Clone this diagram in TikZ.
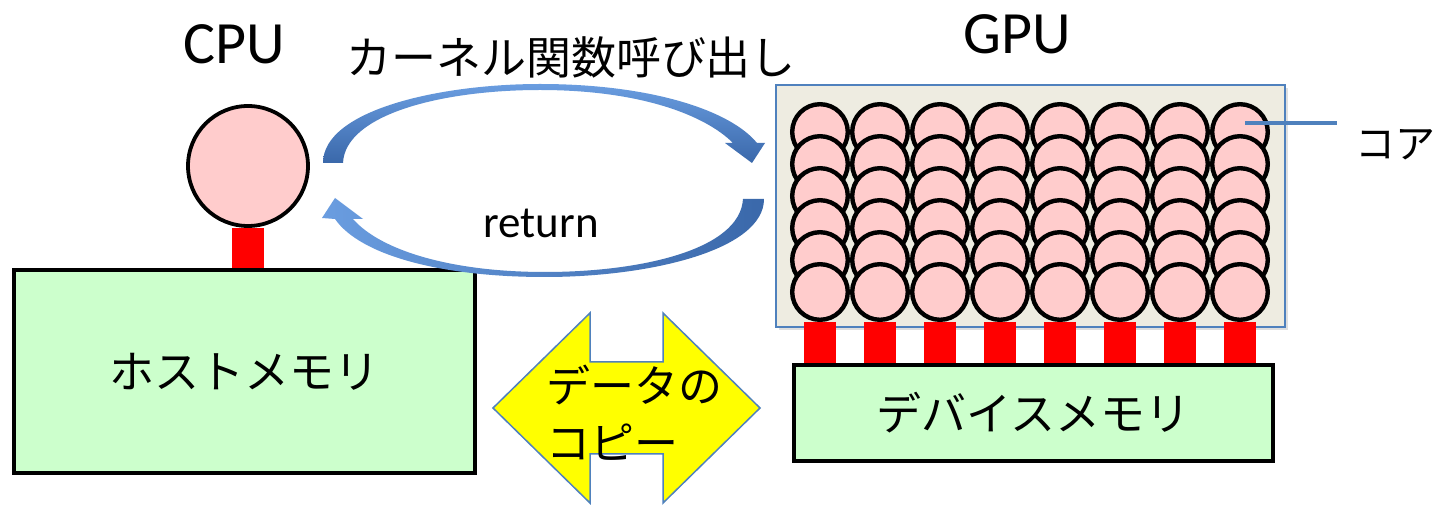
\documentclass[tikz,border=0pt]{standalone}
\usepackage{fontspec}
\setmainfont{Carlito}
\newfontfamily\jp{Noto Sans CJK JP}
\usetikzlibrary{backgrounds,shadows}
\definecolor{corepink}{HTML}{FFCCCC}
\definecolor{memgreen}{HTML}{CCFFCC}
\definecolor{gpubg}{HTML}{EEECE1}
\definecolor{ofblue}{HTML}{4F81BD}
\definecolor{arrD}{HTML}{3A68AA}
\definecolor{arrL}{HTML}{6A9DE0}
\definecolor{stemred}{HTML}{FF0000}
\definecolor{copyyellow}{HTML}{FFFF00}
\begin{document}
\begin{tikzpicture}[x=0.5pt,y=-0.5pt,
  corenode/.style={circle,draw=black,line width=2.2pt,fill=corepink,minimum size=27.8pt,inner sep=0pt},
  cpunode/.style={circle,draw=black,line width=1.9pt,fill=corepink,minimum size=60pt,inner sep=0pt},
  memnode/.style={rectangle,draw=black,line width=2.1pt,fill=memgreen,inner sep=0pt,font=\jp\fontsize{22.5}{28.5}\selectfont},
  stemline/.style={draw=stemred,line width=16pt},
  latinlbl/.style={inner sep=0pt,font=\fontsize{30}{36}\selectfont},
  jplbl/.style={inner sep=0pt,font=\jp\fontsize{22.5}{28.5}\selectfont},
  callout/.style={draw=ofblue,line width=2pt}
]
\useasboundingbox (0,0) rectangle (1437,507);

% labels
\node[latinlbl] (cpulbl) at (234,44) {CPU};
\node[latinlbl] (gpulbl) at (1017,34) {GPU};
\node[jplbl] (calllbl) at (571,57) {カーネル関数呼び出し};
\node[inner sep=0pt,font=\fontsize{22.5}{27}\selectfont,anchor=base] (retlbl) at (541,238) {return};

% CPU and host memory
\node[cpunode] (cpu) at (248,166) {};
\node[memnode,minimum width=230.5pt,minimum height=101.5pt] (host) at (244.5,371.5) {ホストメモリ};

% GPU cores
\foreach \r in {0,...,5}{
  \foreach \c in {0,...,7}{
    \node[corenode] (c-\r-\c) at ({820+60*\c},{132+32*\r}) {};
  }
}
\node[memnode,minimum width=239.5pt,minimum height=48pt] (dev) at (1033.5,413) {デバイスメモリ};

% background: white page, GPU box and stems
\begin{scope}[on background layer]
  \fill[white] (0,0) rectangle (1437,507);
  \node[draw=ofblue,line width=1pt,fill=gpubg,minimum width=254.5pt,minimum height=121pt,inner sep=0pt,
        drop shadow={shadow xshift=1.5pt,shadow yshift=-1.5pt,opacity=0.25}] (gpu) at (1030.5,206) {};
  \draw[stemline] (cpu.south) -- (cpu.south |- host.north);
  \foreach \c in {0,...,7}{
    \draw[stemline] (c-5-\c.south) -- (c-5-\c.south |- dev.north);
  }
\end{scope}

% core label
\coordinate (corestart) at (1245,123);
\coordinate (coreend) at (1337,123);
\draw[callout] (corestart) -- (coreend);
\node[inner sep=0pt,anchor=west,font=\jp\fontsize{20}{24}\selectfont] (corelbl) at (1355,145) {コア};

% kernel call arrow
\shade[top color=arrL,bottom color=arrD]
 (323,163) .. controls (323,110) and (440,84) .. (540,84)
 .. controls (650,84) and (730,110) .. (757,143)
 -- (765,143) -- (752,163) -- (725,143) -- (733,143)
 .. controls (705,115) and (640,90) .. (540,90)
 .. controls (440,90) and (345,115) .. (343,163) -- cycle;

% return arrow
\shade[left color=arrL,right color=arrD]
 (743,199) -- (764,199)
 .. controls (764,250) and (650,277) .. (545,277)
 .. controls (440,277) and (360,255) .. (335,219)
 -- (322,218) -- (335,198) -- (363,219) -- (353,219)
 .. controls (380,250) and (450,272) .. (545,272)
 .. controls (640,272) and (740,250) .. (743,199) -- cycle;

% data copy double arrow
\draw[draw=ofblue,line width=0.75pt,fill=copyyellow]
 (493,408) -- (590,313) -- (590,362) -- (663,362) -- (663,313) -- (760,408)
 -- (663,503) -- (663,454) -- (590,454) -- (590,503) -- cycle;
\node[inner sep=0pt,anchor=west,align=left,font=\jp\fontsize{22}{28.5}\selectfont] (copylbl) at (546,413) {データの\\コピー};
\end{tikzpicture}
\end{document}
